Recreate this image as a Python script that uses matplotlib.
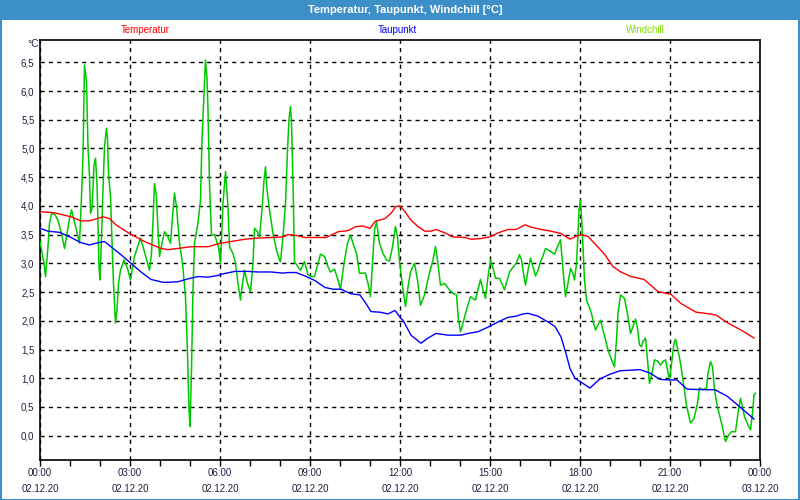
import matplotlib
matplotlib.use("Agg")
import matplotlib.pyplot as plt
from matplotlib.patches import Rectangle
import numpy as np

# ---- data (minutes after 02.12.20 00:00, °C) ----
temp_t = [0, 29, 62, 82, 99, 126, 139, 152, 179, 209, 242, 256, 276, 302, 336, 356, 382, 410,
          436, 462, 486, 496, 510, 530, 572, 596, 616, 632, 646, 660, 670, 690, 702, 712, 720,
          730, 742, 756, 770, 782, 792, 810, 826, 850, 862, 880, 900, 916, 936, 952, 970, 982,
          1002, 1022, 1042, 1060, 1072, 1082, 1096, 1112, 1130, 1146, 1162, 1182, 1208, 1236,
          1262, 1282, 1312, 1340, 1352, 1376, 1402, 1428]
temp_v = [3.90, 3.88, 3.81, 3.74, 3.74, 3.81, 3.78, 3.67, 3.52, 3.38, 3.26, 3.24, 3.26, 3.29,
          3.29, 3.34, 3.38, 3.42, 3.44, 3.45, 3.46, 3.50, 3.49, 3.45, 3.45, 3.55, 3.57, 3.64,
          3.65, 3.61, 3.73, 3.78, 3.87, 3.99, 4.00, 3.90, 3.75, 3.64, 3.56, 3.56, 3.59, 3.53,
          3.46, 3.45, 3.42, 3.43, 3.46, 3.53, 3.59, 3.59, 3.67, 3.63, 3.59, 3.56, 3.52, 3.42,
          3.47, 3.50, 3.47, 3.32, 3.15, 2.94, 2.85, 2.77, 2.72, 2.51, 2.46, 2.30, 2.15, 2.12,
          2.10, 1.96, 1.84, 1.70]

dew_t = [0, 16, 39, 62, 82, 99, 116, 129, 142, 162, 182, 202, 222, 246, 256, 276, 296, 316,
         336, 356, 362, 390, 416, 436, 462, 486, 496, 512, 530, 550, 570, 586, 602, 622, 640,
         652, 662, 680, 696, 710, 722, 726, 742, 762, 776, 792, 816, 842, 856, 876, 896, 916,
         936, 952, 966, 976, 996, 1016, 1030, 1042, 1052, 1060, 1070, 1100, 1120, 1140, 1160,
         1200, 1220, 1240, 1260, 1274, 1294, 1334, 1350, 1374, 1400, 1428]
dew_v = [3.61, 3.56, 3.54, 3.45, 3.36, 3.32, 3.36, 3.38, 3.29, 3.15, 3.00, 2.85, 2.72, 2.67,
         2.67, 2.68, 2.73, 2.77, 2.76, 2.79, 2.81, 2.86, 2.86, 2.85, 2.85, 2.83, 2.84, 2.84,
         2.78, 2.70, 2.58, 2.55, 2.55, 2.47, 2.45, 2.30, 2.16, 2.15, 2.12, 2.18, 2.04, 2.01,
         1.75, 1.61, 1.70, 1.78, 1.75, 1.75, 1.78, 1.81, 1.89, 1.98, 2.06, 2.08, 2.12, 2.13,
         2.08, 1.98, 1.90, 1.72, 1.43, 1.17, 1.00, 0.83, 0.99, 1.07, 1.13, 1.15, 1.09, 0.98,
         0.97, 0.97, 0.81, 0.80, 0.80, 0.69, 0.50, 0.29]

wc_t = [0, 8, 11, 16, 19, 23, 29, 36, 43, 49, 59, 63, 73, 79, 83, 86, 89, 93, 96, 99, 101,
        104, 108, 111, 114, 118, 120, 123, 126, 129, 133, 135, 137, 141, 144, 147, 151, 154,
        157, 161, 168, 175, 181, 189, 201, 208, 219, 223, 226, 229, 233, 236, 239, 244, 249,
        255, 261, 265, 269, 273, 279, 285, 291, 295, 298, 300, 303, 306, 309, 316, 321, 324,
        328, 331, 334, 336, 339, 343, 349, 357, 361, 366, 371, 376, 379, 386, 391, 396, 401,
        405, 409, 415, 421, 426, 429, 435, 439, 444, 448, 451, 454, 459, 466, 473, 479, 481,
        486, 491, 495, 498, 501, 503, 506, 509, 516, 521, 529, 536, 543, 549, 556, 561, 569,
        576, 581, 589, 596, 601, 608, 615, 621, 626, 633, 639, 651, 656, 661, 665, 669, 673,
        679, 686, 693, 699, 705, 711, 715, 719, 724, 726, 731, 736, 741, 749, 755, 761, 769,
        779, 786, 791, 795, 801, 809, 816, 825, 833, 837, 841, 846, 853, 861, 871, 876, 881,
        886, 891, 896, 901, 905, 911, 919, 929, 939, 946, 953, 959, 963, 966, 971, 976, 981,
        986, 991, 996, 1001, 1006, 1011, 1019, 1029, 1035, 1041, 1045, 1049, 1051, 1056, 1061,
        1065, 1069, 1073, 1076, 1078, 1081, 1083, 1086, 1089, 1093, 1098, 1103, 1107, 1111,
        1116, 1121, 1126, 1131, 1136, 1143, 1149, 1153, 1156, 1161, 1169, 1176, 1181, 1186,
        1191, 1195, 1199, 1203, 1206, 1211, 1215, 1219, 1224, 1229, 1235, 1241, 1246, 1251,
        1255, 1259, 1264, 1268, 1271, 1276, 1281, 1286, 1293, 1301, 1308, 1315, 1319, 1326,
        1333, 1336, 1341, 1345, 1349, 1355, 1363, 1371, 1377, 1383, 1391, 1396, 1401, 1405,
        1409, 1416, 1421, 1425, 1428, 1431]
wc_v = [3.38, 3.00, 2.77, 3.29, 3.70, 3.86, 3.86, 3.75, 3.52, 3.26, 3.78, 3.93, 3.58, 3.35,
        4.16, 4.86, 6.45, 6.16, 5.03, 4.51, 3.87, 3.95, 4.71, 4.83, 4.39, 2.94, 2.71, 3.46,
        4.28, 5.03, 5.35, 5.18, 4.57, 4.16, 3.41, 2.65, 1.96, 2.19, 2.65, 2.88, 3.06, 2.91,
        2.71, 3.12, 3.44, 3.23, 2.88, 3.17, 3.75, 4.39, 4.16, 3.58, 3.12, 3.35, 3.55, 3.48,
        3.35, 3.81, 4.22, 3.99, 3.35, 3.00, 2.42, 1.43, 0.45, 0.16, 1.14, 2.54, 3.35, 3.70,
        4.10, 5.15, 5.96, 6.54, 6.22, 5.67, 4.39, 3.49, 3.50, 3.29, 3.00, 4.05, 4.60, 3.99,
        3.29, 3.17, 3.00, 2.65, 2.36, 2.65, 2.88, 2.65, 2.51, 3.00, 3.61, 3.55, 3.46, 3.93,
        4.45, 4.68, 4.28, 3.93, 3.52, 3.23, 3.06, 3.03, 3.46, 4.05, 4.97, 5.50, 5.73, 5.47,
        4.39, 3.03, 2.94, 2.88, 3.03, 2.80, 2.77, 2.77, 3.00, 3.16, 3.12, 2.94, 2.85, 2.90,
        2.71, 2.55, 3.00, 3.35, 3.49, 3.35, 3.17, 2.83, 2.83, 2.65, 2.42, 3.00, 3.58, 3.73,
        3.35, 3.17, 3.06, 3.04, 3.29, 3.64, 3.46, 3.03, 2.68, 2.54, 2.25, 2.59, 2.85, 3.00,
        2.71, 2.27, 2.45, 2.83, 3.06, 3.29, 3.06, 2.62, 2.65, 2.57, 2.48, 2.45, 2.01, 1.81,
        1.96, 2.19, 2.42, 2.36, 2.54, 2.72, 2.54, 2.39, 2.77, 3.06, 2.95, 2.74, 2.74, 2.54,
        2.85, 2.93, 3.01, 3.15, 3.06, 2.88, 2.62, 2.88, 3.09, 2.94, 2.78, 2.88, 3.03, 3.13,
        3.26, 3.22, 3.16, 3.29, 3.41, 3.00, 2.59, 2.42, 2.65, 2.91, 2.85, 2.71, 3.00, 3.52,
        3.93, 4.10, 3.81, 3.29, 2.71, 2.36, 2.25, 2.13, 1.96, 1.84, 1.93, 2.01, 1.84, 1.67,
        1.49, 1.32, 1.20, 1.67, 2.13, 2.45, 2.39, 2.07, 1.78, 1.90, 2.03, 1.87, 1.58, 1.55,
        1.64, 1.70, 1.32, 0.91, 1.09, 1.32, 1.30, 1.23, 1.29, 1.32, 1.14, 0.97, 1.32, 1.61,
        1.68, 1.49, 1.26, 0.97, 0.53, 0.22, 0.30, 0.56, 0.83, 0.80, 0.83, 1.09, 1.29, 1.20,
        0.80, 0.50, 0.22, -0.10, 0.01, 0.07, 0.07, 0.39, 0.65, 0.50, 0.33, 0.19, 0.10, 0.39,
        0.71, 0.74]

major_ticks = [0, 180, 360, 540, 720, 900, 1080, 1260, 1440]
major_labels = ["00:00\n02.12.20", "03:00\n02.12.20", "06:00\n02.12.20", "09:00\n02.12.20",
                "12:00\n02.12.20", "15:00\n02.12.20", "18:00\n02.12.20", "21:00\n02.12.20",
                "00:00\n03.12.20"]
y_ticks = [0.0, 0.5, 1.0, 1.5, 2.0, 2.5, 3.0, 3.5, 4.0, 4.5, 5.0, 5.5, 6.0, 6.5]
y_labels = ["0,0", "0,5", "1,0", "1,5", "2,0", "2,5", "3,0", "3,5", "4,0", "4,5", "5,0",
            "5,5", "6,0", "6,5"]
series_names = ["Temperatur", "Taupunkt", "Windchill"]

plt.rcParams['font.family'] = ['Liberation Sans', 'DejaVu Sans']

fig = plt.figure(figsize=(8, 5), dpi=100)
fig.patch.set_facecolor('white')

# title bar and frame
bar_color = '#3d8fc7'
fig.patches.append(Rectangle((0, 1 - 20 / 500), 1, 20 / 500, transform=fig.transFigure,
                             facecolor=bar_color, edgecolor='none', zorder=0))
fig.patches.append(Rectangle((0.0008, 0.001), 0.9975, 0.997, transform=fig.transFigure,
                             facecolor='none', edgecolor=bar_color, linewidth=1.5, zorder=0))
fig.text(0.507, 1 - 10 / 500, "Temperatur, Taupunkt, Windchill [°C]", color='white',
         fontsize=8, fontweight='bold', ha='center', va='center')

# legend texts
fig.text(145 / 800, 1 - 30 / 500, series_names[0], color='#ff0000', fontsize=7, ha='center', va='center')
fig.text(397 / 800, 1 - 30 / 500, series_names[1], color='#0000ff', fontsize=7, ha='center', va='center')
fig.text(645 / 800, 1 - 30 / 500, series_names[2], color='#80e000', fontsize=7, ha='center', va='center')
fig.text(33 / 800, 1 - 44 / 500, "°C", color='#202040', fontsize=7.5, ha='center', va='center')

ax = fig.add_axes([40 / 800, 40 / 500, 720 / 800, 420 / 500])
ax.set_facecolor('white')

ax.plot(wc_t, wc_v, color='#00c800', lw=1.1, zorder=3)
ax.plot(temp_t, temp_v, color='#ff0000', lw=1.0, zorder=4)
ax.plot(dew_t, dew_v, color='#0000ff', lw=1.0, zorder=4)

ax.set_xlim(0, 1440)
ax.set_ylim(-0.423, 6.888)

ax.set_xticks(major_ticks)
ax.set_xticklabels(major_labels, fontsize=7, color='#202040', linespacing=1.65)
ax.set_xticks(np.arange(0, 1441, 60), minor=True)
ax.set_yticks(y_ticks)
ax.set_yticklabels(y_labels, fontsize=7, color='#202040')
ax.tick_params(axis='x', which='both', direction='out', length=4, width=1, pad=2, color='black')
ax.tick_params(axis='y', which='both', length=0, pad=4)

ax.grid(True, which='major', axis='both', color='black', linestyle=(0, (3, 3)), linewidth=1)
ax.set_axisbelow(True)
for s in ax.spines.values():
    s.set_color('black')
    s.set_linewidth(1.2)

fig.savefig('out.png', dpi=100)
